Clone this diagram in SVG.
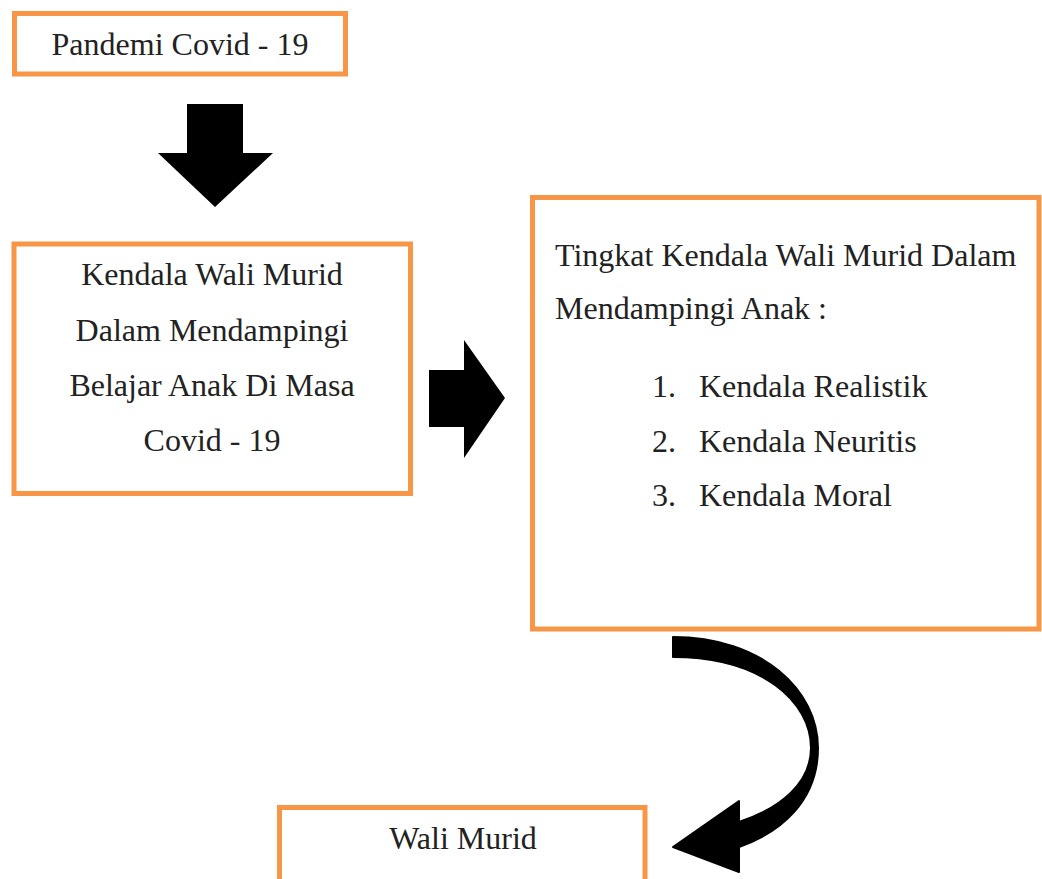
<svg xmlns="http://www.w3.org/2000/svg" width="1042" height="879" viewBox="0 0 1042 879">
<style>
.box{fill:#fff;stroke:#F79646;stroke-width:5}
.t{font-family:"Liberation Serif","Times New Roman",serif;font-size:32px;fill:#222}
.c{text-anchor:middle}
.arr{fill:#000}
</style>
<rect width="1042" height="879" fill="#fff"/>
<g id="node-pandemi">
<rect class="box" x="14.5" y="13.5" width="331" height="60.5"/>
<text class="t c" x="180" y="55">Pandemi Covid - 19</text>
</g>
<g id="node-kendala">
<rect class="box" x="14" y="244" width="396.5" height="249.5"/>
<text class="t c" x="212" y="285">Kendala Wali Murid</text>
<text class="t c" x="212" y="341">Dalam Mendampingi</text>
<text class="t c" x="212" y="396">Belajar Anak Di Masa</text>
<text class="t c" x="212" y="451">Covid - 19</text>
</g>
<g id="node-tingkat">
<rect class="box" x="532.5" y="197.5" width="506.5" height="431.5"/>
<text class="t" x="555" y="266">Tingkat Kendala Wali Murid Dalam</text>
<text class="t" x="555" y="319">Mendampingi Anak :</text>
<text class="t" x="652" y="397">1.</text>
<text class="t" x="699" y="397">Kendala Realistik</text>
<text class="t" x="652" y="452">2.</text>
<text class="t" x="699" y="452">Kendala Neuritis</text>
<text class="t" x="652" y="506">3.</text>
<text class="t" x="699" y="506">Kendala Moral</text>
</g>
<g id="node-wali">
<rect class="box" x="279.5" y="807.5" width="365.5" height="100"/>
<text class="t c" x="463" y="849">Wali Murid</text>
</g>
<g id="connectors">
<path class="arr" d="M187,104 L243,104 L243,153 L273,153 L215,207 L158,153 L187,153 Z"/>
<path class="arr" d="M429,370 L464,370 L464,340 L505,398 L464,458 L464,427 L429,427 Z"/>
<path class="arr" stroke="#000" stroke-width="2" stroke-linejoin="round" d="M673,637 C762,637 818,690 818,748 C818,800 782,832 739,847 L739,872 L673,847 L739,801 L739,822 C782,808 811,782 811,748 C811,702 762,657 673,657 Z"/>
</g>
</svg>
